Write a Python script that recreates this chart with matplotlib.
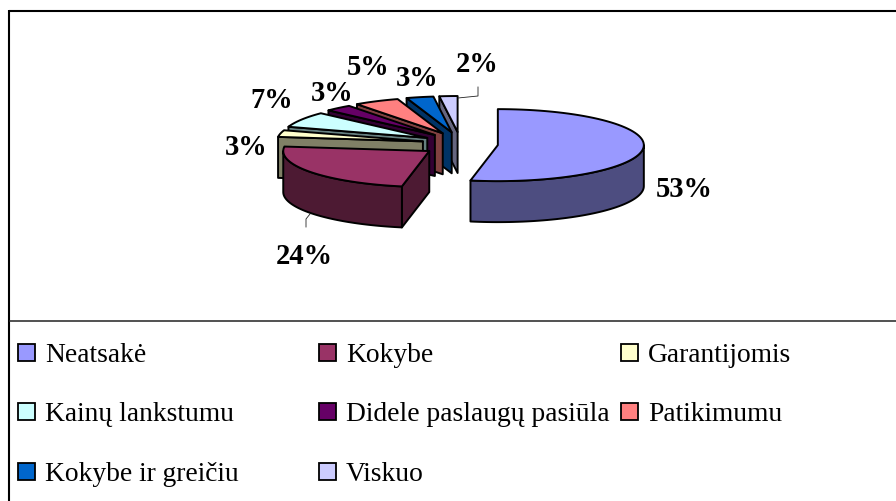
import numpy as np
import matplotlib
matplotlib.use("Agg")
import matplotlib.pyplot as plt
from matplotlib.patches import Polygon, Rectangle

labels = ["Neatsakė", "Kokybe", "Garantijomis", "Kainų lankstumu",
          "Didele paslaugų pasiūla", "Patikimumu", "Kokybe ir greičiu", "Viskuo"]
values = [53, 24, 3, 7, 3, 5, 3, 2]
top_colors = ["#9999FF", "#993366", "#FFFFCC", "#CCFFFF",
              "#660066", "#FF8080", "#0066CC", "#CCCCFF"]
side_colors = ["#4D4D80", "#4D1A33", "#808066", "#668080",
               "#330033", "#804040", "#003366", "#666680"]
# label centre x, baseline y
pct_pos = [(684, 197), (304, 264), (246, 155), (272, 108),
           (332, 101), (368, 75), (417, 86), (477, 72)]

CX, CY = 460, 145        # pie centre in px
RX, RY = 146, 36         # ellipse radii
EX, EY = 38, 12          # explosion
DEPTH = 41
SERIF = "Liberation Serif"
PX = 72 / 100            # px to pt at dpi 100

fig = plt.figure(figsize=(8.96, 5.02), dpi=100)
ax = fig.add_axes([0, 0, 1, 1])
ax.set_xlim(0, 896)
ax.set_ylim(502, 0)
ax.axis("off")


def rim(cx, cy, deg):
    t = np.radians(deg)
    return np.column_stack([cx + RX * np.sin(t), cy - RY * np.cos(t)])


def poly(pts, color, z):
    ax.add_patch(Polygon(pts, closed=True, facecolor=color, edgecolor="black",
                         linewidth=1.4, joinstyle="round", zorder=z))


# Frame: only top and left are inside the crop, plus the legend divider
ax.plot([9, 896], [12, 12], color="black", linewidth=1.5, solid_capstyle="butt")
ax.plot([9, 9], [11.3, 502], color="black", linewidth=1.5, solid_capstyle="butt")
ax.plot([9, 896], [322, 322], color="#222222", linewidth=1.1, solid_capstyle="butt")

# Slices back to front: clockwise from 12 o'clock, last slices are at the back
edges = np.concatenate([[0], np.cumsum(values)]) * 3.6
order = [0] + list(range(len(values) - 1, 0, -1))
for z, i in enumerate(order):
    a0, a1 = edges[i], edges[i + 1]
    mid = np.radians((a0 + a1) / 2)
    cx = CX + EX * np.sin(mid)
    cy = CY - EY * np.cos(mid)
    base = 2 + z * 3
    centre = np.array([[cx, cy]])
    down = np.array([0, DEPTH])

    # Cut face on the start side, only if it looks towards the viewer
    if np.sin(np.radians(a0)) < 0:
        p = rim(cx, cy, np.array([a0]))
        poly(np.vstack([centre, p, p + down, centre + down]), side_colors[i], base)
    if 0 < np.sin(np.radians(a1)) and a1 < 180:
        p = rim(cx, cy, np.array([a1]))
        poly(np.vstack([centre, p, p + down, centre + down]), side_colors[i], base)

    # Outer wall, front half only
    lo, hi = max(a0, 90), min(a1, 270)
    if lo < hi:
        arc = rim(cx, cy, np.linspace(lo, hi, 60))
        poly(np.vstack([arc, arc[::-1] + down]), side_colors[i], base + 1)

    # Top
    poly(np.vstack([centre, rim(cx, cy, np.linspace(a0, a1, 80))]), top_colors[i], base + 2)

# Percent labels and the two leader lines
for v, (x, y) in zip(values, pct_pos):
    ax.text(x, y, f"{v}%", family=SERIF, fontweight="bold", fontsize=28.5 * PX,
            ha="center", va="baseline", color="black", zorder=60)
ax.plot([310, 306, 306], [215, 220, 228], color="#222222", linewidth=0.6, zorder=60)
ax.plot([458, 478, 478], [99, 97, 88], color="#222222", linewidth=0.6, zorder=60)

# Legend
col_x = [18, 319, 621]
row_y = [353.5, 412.5, 472.5]
for k, name in enumerate(labels):
    x = col_x[k % 3]
    y = row_y[k // 3]
    ax.add_patch(Rectangle((x, y - 8.5), 17, 17, facecolor=top_colors[k],
                           edgecolor="black", linewidth=1.3, zorder=60))
    ax.text(x + 27, y + 8.5, name, family=SERIF, fontsize=27.5 * PX, ha="left",
            va="baseline", color="black", zorder=60)

fig.savefig("out.png", dpi=100)
plt.close(fig)
